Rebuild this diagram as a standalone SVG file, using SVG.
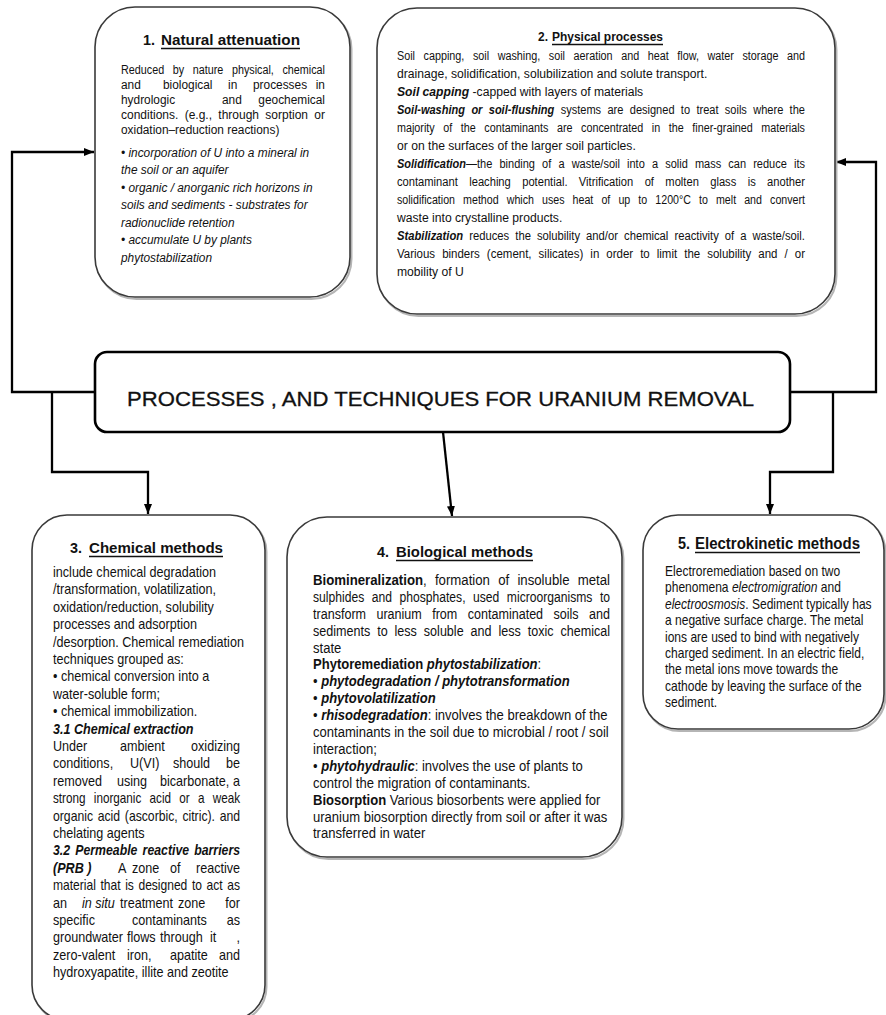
<svg xmlns="http://www.w3.org/2000/svg" width="886" height="1015" viewBox="0 0 886 1015">
<defs>
<style>
.box{fill:#fff;stroke:#3a3a3a;stroke-width:1.6}
.sh{fill:none;stroke:#b5b5b5;stroke-width:2}
.t{font-family:"Liberation Sans",Arial,sans-serif;fill:#111}
.b{font-weight:bold}
.i{font-style:italic}
.bi{font-weight:bold;font-style:italic}
.ttl{font-weight:bold}
.ul{stroke:#111;stroke-width:1.3}
.conn{stroke:#000;stroke-width:2.3;fill:none}
</style>
<marker id="ah" viewBox="0 0 10 10" refX="10" refY="5" markerWidth="10" markerHeight="10" markerUnits="userSpaceOnUse" orient="auto">
<path d="M0,1 L10,5 L0,9 z" fill="#000"/>
</marker>
</defs>
<rect width="886" height="1015" fill="#fff"/>

<g id="connectors">
<path class="conn" d="M95,392 H12 V152 H94" marker-end="url(#ah)"/>
<path class="conn" d="M790,392 H876 V162 H836" marker-end="url(#ah)"/>
<path class="conn" d="M52,392 V472 H148 V514" marker-end="url(#ah)"/>
<path class="conn" d="M443,432 L452,516" marker-end="url(#ah)"/>
<path class="conn" d="M833,392 V472 H770 V514" marker-end="url(#ah)"/>
</g>

<g id="node1">
<rect class="sh" x="96.5" y="9" width="255" height="290" rx="40"/>
<rect class="box" x="95" y="7" width="255" height="290" rx="40"/>
<text class="t ttl" x="143" y="45" font-size="15" textLength="12" lengthAdjust="spacingAndGlyphs">1.</text>
<text class="t ttl" x="161" y="45" font-size="15" textLength="139" lengthAdjust="spacingAndGlyphs">Natural attenuation</text>
<line class="ul" x1="161" y1="48.5" x2="300" y2="48.5"/>
<g class="t" font-size="13.5" transform="translate(121 0) scale(0.88 1)">
<text x="0" y="74" word-spacing="7" textLength="231.8" lengthAdjust="spacingAndGlyphs">Reduced by nature physical, chemical</text>
<text x="0" y="89">and</text><text x="47.7" y="89">biological</text><text x="121.6" y="89">in</text><text x="150" y="89">processes</text><text x="231.8" y="89" text-anchor="end">in</text>
<text x="0" y="104">hydrologic</text><text x="114.8" y="104">and</text><text x="231.8" y="104" text-anchor="end">geochemical</text>
<text x="0" y="119" word-spacing="3.4" textLength="231.8" lengthAdjust="spacingAndGlyphs">conditions. (e.g., through sorption or</text>
<text x="0" y="134">oxidation–reduction reactions)</text>
<text class="i" x="0" y="157">• incorporation of U into a mineral in</text>
<text class="i" x="0" y="174.5">the soil or an aquifer</text>
<text class="i" x="0" y="192">• organic / anorganic rich horizons in</text>
<text class="i" x="0" y="209.5">soils and sediments - substrates for</text>
<text class="i" x="0" y="227">radionuclide retention</text>
<text class="i" x="0" y="244.5">• accumulate U by plants</text>
<text class="i" x="0" y="262">phytostabilization</text>
</g>
</g>

<g id="node2">
<rect class="sh" x="378.5" y="10" width="458" height="306" rx="40"/>
<rect class="box" x="377" y="8" width="458" height="306" rx="40"/>
<text class="t ttl" x="538" y="41" font-size="13" textLength="10" lengthAdjust="spacingAndGlyphs">2.</text>
<text class="t ttl" x="552" y="41" font-size="13" textLength="111" lengthAdjust="spacingAndGlyphs">Physical processes</text>
<line class="ul" x1="552" y1="44.5" x2="663" y2="44.5"/>
<g class="t" font-size="13.5" transform="translate(397 0) scale(0.9 1)">
<text x="0" y="60" word-spacing="7" textLength="453.3" lengthAdjust="spacingAndGlyphs">Soil capping, soil washing, soil aeration and heat flow, water storage and</text>
<text x="0" y="78">drainage, solidification, solubilization and solute transport.</text>
<text x="0" y="96"><tspan class="bi">Soil capping</tspan> -capped with layers of materials</text>
<text x="0" y="114" word-spacing="4" textLength="453.3" lengthAdjust="spacingAndGlyphs"><tspan class="bi">Soil-washing or soil-flushing</tspan> systems are designed to treat soils where the</text>
<text x="0" y="132" word-spacing="7" textLength="453.3" lengthAdjust="spacingAndGlyphs">majority of the contaminants are concentrated in the finer-grained materials</text>
<text x="0" y="150">or on the surfaces of the larger soil particles.</text>
<text x="0" y="168" word-spacing="5" textLength="453.3" lengthAdjust="spacingAndGlyphs"><tspan class="bi">Solidification</tspan>—the binding of a waste/soil into a solid mass can reduce its</text>
<text x="0" y="186" word-spacing="10" textLength="453.3" lengthAdjust="spacingAndGlyphs">contaminant leaching potential. Vitrification of molten glass is another</text>
<text x="0" y="204" word-spacing="6.5" textLength="453.3" lengthAdjust="spacingAndGlyphs">solidification method which uses heat of up to 1200°C to melt and convert</text>
<text x="0" y="222">waste into crystalline products.</text>
<text x="0" y="240" word-spacing="3.5" textLength="453.3" lengthAdjust="spacingAndGlyphs"><tspan class="bi">Stabilization</tspan> reduces the solubility and/or chemical reactivity of a waste/soil.</text>
<text x="0" y="258" word-spacing="4.5" textLength="453.3" lengthAdjust="spacingAndGlyphs">Various binders (cement, silicates) in order to limit the solubility and / or</text>
<text x="0" y="276">mobility of U</text>
</g>
</g>

<g id="center">
<rect x="95" y="352" width="695" height="80" rx="12" fill="#fff" stroke="#000" stroke-width="2.6"/>
<text class="t" x="127" y="406" font-size="21" stroke="#111" stroke-width="0.3" textLength="627" lengthAdjust="spacingAndGlyphs">PROCESSES , AND TECHNIQUES FOR URANIUM REMOVAL</text>
</g>

<g id="node3">
<rect class="sh" x="33.5" y="517" width="233" height="505" rx="35"/>
<rect class="box" x="32" y="515" width="233" height="505" rx="35"/>
<text class="t ttl" x="70" y="553" font-size="15.5" textLength="12" lengthAdjust="spacingAndGlyphs">3.</text>
<text class="t ttl" x="89" y="553" font-size="15.5" textLength="134" lengthAdjust="spacingAndGlyphs">Chemical methods</text>
<line class="ul" x1="89" y1="556.5" x2="223" y2="556.5"/>
<g class="t" font-size="14" transform="translate(53 0) scale(0.9 1)">
<text x="0" y="577">include chemical degradation</text>
<text x="0" y="594.4">/transformation, volatilization,</text>
<text x="0" y="611.8">oxidation/reduction, solubility</text>
<text x="0" y="629.2">processes and adsorption</text>
<text x="0" y="646.6">/desorption. Chemical remediation</text>
<text x="0" y="664">techniques grouped as:</text>
<text x="0" y="681.4">• chemical conversion into a</text>
<text x="0" y="698.8">water-soluble form;</text>
<text x="0" y="716.2">• chemical immobilization.</text>
<text class="bi" x="0" y="733.6">3.1 Chemical extraction</text>
<text x="0" y="751">Under</text><text x="74.4" y="751">ambient</text><text x="207.8" y="751" text-anchor="end">oxidizing</text>
<text x="0" y="768.4">conditions,</text><text x="85.6" y="768.4">U(VI)</text><text x="133.3" y="768.4">should</text><text x="207.8" y="768.4" text-anchor="end">be</text>
<text x="0" y="785.8">removed</text><text x="71.1" y="785.8">using</text><text x="118.9" y="785.8">bicarbonate,</text><text x="207.8" y="785.8" text-anchor="end">a</text>
<text x="0" y="803.2" word-spacing="6" textLength="207.8" lengthAdjust="spacingAndGlyphs">strong inorganic acid or a weak</text>
<text x="0" y="820.6" word-spacing="1.5" textLength="207.8" lengthAdjust="spacingAndGlyphs">organic acid (ascorbic, citric). and</text>
<text x="0" y="838">chelating agents</text>
<text class="bi" x="0" y="855.4" word-spacing="2" textLength="207.8" lengthAdjust="spacingAndGlyphs">3.2 Permeable reactive barriers</text>
<text class="bi" x="0" y="872.8">(PRB )</text><text x="72.2" y="872.8">A</text><text x="87.8" y="872.8">zone</text><text x="130" y="872.8">of</text><text x="207.8" y="872.8" text-anchor="end">reactive</text>
<text x="0" y="890.2" word-spacing="1.5" textLength="207.8" lengthAdjust="spacingAndGlyphs">material that is designed to act as</text>
<text x="0" y="907.6">an</text><text class="i" x="32.2" y="907.6">in situ</text><text x="74.4" y="907.6">treatment</text><text x="138.9" y="907.6">zone</text><text x="207.8" y="907.6" text-anchor="end">for</text>
<text x="0" y="925">specific</text><text x="87.8" y="925">contaminants</text><text x="207.8" y="925" text-anchor="end">as</text>
<text x="0" y="942.4">groundwater</text><text x="82.2" y="942.4">flows</text><text x="118.9" y="942.4">through</text><text x="174.4" y="942.4">it</text><text x="207.8" y="942.4" text-anchor="end">,</text>
<text x="0" y="959.8">zero-valent</text><text x="82.2" y="959.8">iron,</text><text x="130" y="959.8">apatite</text><text x="207.8" y="959.8" text-anchor="end">and</text>
<text x="0" y="977.2">hydroxyapatite, illite and zeotite</text>
</g>
</g>

<g id="node4">
<rect class="sh" x="288.5" y="519" width="335" height="340" rx="40"/>
<rect class="box" x="287" y="517" width="335" height="340" rx="40"/>
<text class="t ttl" x="377" y="557" font-size="15.5" textLength="12" lengthAdjust="spacingAndGlyphs">4.</text>
<text class="t ttl" x="396" y="557" font-size="15.5" textLength="137" lengthAdjust="spacingAndGlyphs">Biological methods</text>
<line class="ul" x1="396" y1="560.5" x2="533" y2="560.5"/>
<g class="t" font-size="14.5" transform="translate(313 0) scale(0.9 1)">
<text x="0" y="585" word-spacing="5" textLength="330" lengthAdjust="spacingAndGlyphs"><tspan class="b">Biomineralization</tspan>, formation of insoluble metal</text>
<text x="0" y="601.9" word-spacing="5" textLength="330" lengthAdjust="spacingAndGlyphs">sulphides and phosphates, used microorganisms to</text>
<text x="0" y="618.8" word-spacing="8" textLength="330" lengthAdjust="spacingAndGlyphs">transform uranium from contaminated soils and</text>
<text x="0" y="635.7" word-spacing="4" textLength="330" lengthAdjust="spacingAndGlyphs">sediments to less soluble and less toxic chemical</text>
<text x="0" y="652.6">state</text>
<text x="0" y="669.5"><tspan class="b">Phytoremediation</tspan> <tspan class="bi">phytostabilization</tspan>:</text>
<text x="0" y="686.4">• <tspan class="bi">phytodegradation / phytotransformation</tspan></text>
<text x="0" y="703.3">• <tspan class="bi">phytovolatilization</tspan></text>
<text x="0" y="720.2">• <tspan class="bi">rhisodegradation</tspan>: involves the breakdown of the</text>
<text x="0" y="737.1">contaminants in the soil due to microbial / root / soil</text>
<text x="0" y="754">interaction;</text>
<text x="0" y="770.9">• <tspan class="bi">phytohydraulic</tspan>: involves the use of plants to</text>
<text x="0" y="787.8">control the migration of contaminants.</text>
<text x="0" y="804.7"><tspan class="b">Biosorption</tspan> Various biosorbents were applied for</text>
<text x="0" y="821.6">uranium biosorption directly from soil or after it was</text>
<text x="0" y="838.5">transferred in water</text>
</g>
</g>

<g id="node5">
<rect class="sh" x="644.5" y="517" width="241" height="214" rx="35"/>
<rect class="box" x="643" y="515" width="241" height="214" rx="35"/>
<text class="t ttl" x="678" y="549" font-size="16" textLength="12" lengthAdjust="spacingAndGlyphs">5.</text>
<text class="t ttl" x="695" y="549" font-size="16" textLength="165" lengthAdjust="spacingAndGlyphs">Electrokinetic methods</text>
<line class="ul" x1="695" y1="552.5" x2="860" y2="552.5"/>
<g class="t" font-size="14" transform="translate(665 0) scale(0.86 1)">
<text x="0" y="576">Electroremediation based on two</text>
<text x="0" y="592.4">phenomena <tspan class="i">electromigration</tspan> and</text>
<text x="0" y="608.8"><tspan class="i">electroosmosis</tspan>. Sediment typically has</text>
<text x="0" y="625.2">a negative surface charge. The metal</text>
<text x="0" y="641.6">ions are used to bind with negatively</text>
<text x="0" y="658">charged sediment. In an electric field,</text>
<text x="0" y="674.4">the metal ions move towards the</text>
<text x="0" y="690.8">cathode by leaving the surface of the</text>
<text x="0" y="707.2">sediment.</text>
</g>
</g>
</svg>
